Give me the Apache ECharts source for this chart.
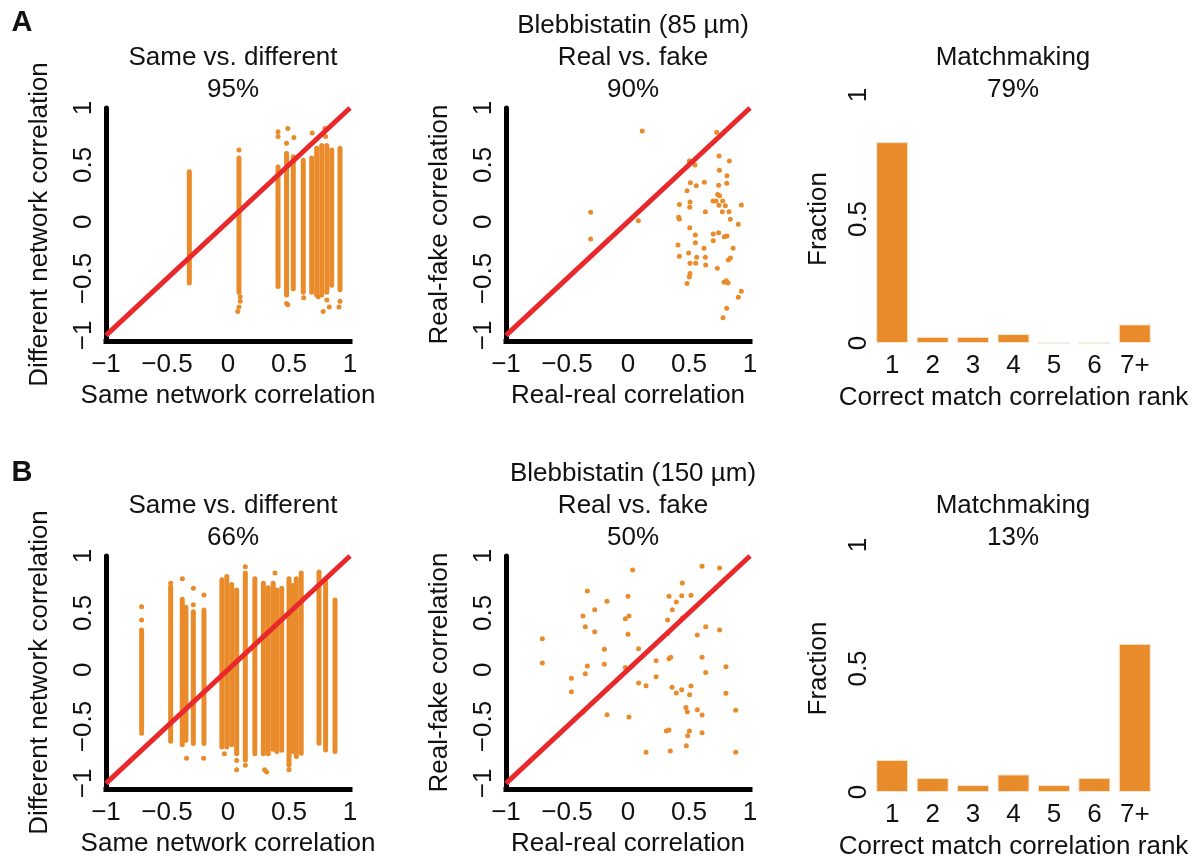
<!DOCTYPE html>
<html>
<head>
<meta charset="utf-8">
<title>Blebbistatin - same vs. different, real vs. fake, matchmaking</title>
<script src="https://cdn.jsdelivr.net/npm/echarts@6/dist/echarts.min.js"></script>
<style>
html, body { margin: 0; padding: 0; background: #fff; }
#main { width: 1203px; height: 861px; }
</style>
</head>
<body>
<div id="main"></div>
<script>
// ---- data ----
var ticks = [-1, -0.5, 0, 0.5, 1];
var ranks = ['1', '2', '3', '4', '5', '6', '7+'];

// matchmaking: fraction of networks per correct-match rank
var fracA = [0.81, 0.025, 0.025, 0.036, 0, 0, 0.075];
var fracB = [0.13, 0.057, 0.028, 0.071, 0.028, 0.057, 0.60];

// same vs. different: dense columns of points [same corr, lowest diff corr, highest diff corr]
var columnsA = [
    [-0.317, -0.54, 0.44], [0.09, -0.62, 0.56], [0.41, -0.57, 0.48], [0.48, -0.645, 0.60],
    [0.535, -0.59, 0.57], [0.617, -0.62, 0.54], [0.686, -0.62, 0.56], [0.727, -0.645, 0.645],
    [0.768, -0.645, 0.67], [0.81, -0.62, 0.67], [0.85, -0.56, 0.63], [0.918, -0.60, 0.645]
];
// isolated points around the columns [same corr, diff corr]
var strayA = [
    [0.09, 0.63], [0.10, -0.66], [0.10, -0.70], [0.09, -0.75], [0.08, -0.79],
    [0.41, 0.79], [0.41, 0.75], [0.49, 0.82], [0.48, 0.69], [0.48, -0.72], [0.49, -0.73],
    [0.54, 0.74], [0.62, -0.67], [0.69, 0.78], [0.795, 0.82], [0.80, 0.75], [0.78, -0.79],
    [0.74, -0.66], [0.81, -0.69], [0.83, -0.75], [0.918, -0.70], [0.91, -0.75]
];
var columnsB = [
    [-0.708, -0.53, 0.35], [-0.47, -0.63, 0.73], [-0.375, -0.66, 0.62], [-0.345, -0.62, 0.55],
    [-0.284, -0.65, 0.51], [-0.197, -0.65, 0.525], [-0.05, -0.68, 0.79], [-0.01, -0.68, 0.82],
    [0.03, -0.66, 0.75], [0.071, -0.74, 0.70], [0.142, -0.795, 0.85], [0.22, -0.74, 0.80],
    [0.29, -0.74, 0.76], [0.33, -0.74, 0.72], [0.37, -0.70, 0.76], [0.40, -0.72, 0.70],
    [0.44, -0.71, 0.716], [0.50, -0.84, 0.80], [0.53, -0.72, 0.74], [0.56, -0.765, 0.80],
    [0.60, -0.736, 0.85], [0.746, -0.648, 0.86], [0.80, -0.707, 0.774], [0.877, -0.72, 0.613]
];
var strayB = [
    [-0.708, 0.554], [-0.708, 0.437], [-0.708, -0.56], [-0.47, 0.76], [-0.374, 0.80],
    [-0.34, -0.78], [-0.284, 0.716], [-0.284, 0.57], [-0.197, 0.657], [-0.20, -0.78],
    [-0.03, -0.74], [0.071, -0.80], [0.071, -0.88], [0.142, 0.906], [0.142, -0.84],
    [0.317, -0.90], [0.30, -0.88], [0.385, 0.85], [0.50, -0.88]
];

// real vs. fake [real-real corr, real-fake corr]
var realFakeA = [
    [0.117, 0.798], [0.727, 0.786], [-0.306, 0.082], [-0.306, -0.152], [0.085, 0.009],
    [0.503, 0.534], [0.549, 0.499], [0.746, 0.578], [0.831, 0.534], [0.749, 0.452], [0.811, 0.405],
    [0.511, 0.343], [0.560, 0.317], [0.626, 0.346], [0.743, 0.320], [0.809, 0.337],
    [0.484, 0.273], [0.735, 0.240], [0.751, 0.229],
    [0.508, 0.173], [0.421, 0.152], [0.697, 0.182], [0.721, 0.182], [0.776, 0.182],
    [0.506, 0.126], [0.746, 0.144], [0.798, 0.141], [0.929, 0.147],
    [0.634, 0.088], [0.773, 0.088], [0.828, 0.088],
    [0.415, 0.038], [0.421, 0.023], [0.839, 0.021], [0.904, -0.023],
    [0.506, -0.053], [0.552, -0.117], [0.699, -0.109], [0.743, -0.097], [0.699, -0.167], [0.552, -0.185],
    [0.790, -0.132], [0.811, -0.126], [0.410, -0.205], [0.861, -0.235], [0.623, -0.235],
    [0.497, -0.276], [0.421, -0.305], [0.563, -0.314], [0.634, -0.314], [0.839, -0.320], [0.822, -0.337],
    [0.508, -0.367], [0.555, -0.367], [0.637, -0.381], [0.732, -0.411],
    [0.508, -0.457], [0.503, -0.487], [0.484, -0.545], [0.787, -0.534], [0.820, -0.540], [0.806, -0.519],
    [0.929, -0.613], [0.904, -0.666], [0.809, -0.762], [0.779, -0.845]
];
var realFakeB = [
    [0.038, 0.877], [0.607, 0.909], [0.751, 0.894], [0.445, 0.762], [-0.333, 0.692],
    [0.0, 0.645], [0.336, 0.645], [0.440, 0.651], [0.516, 0.654], [-0.172, 0.601], [0.396, 0.595],
    [-0.273, 0.528], [0.363, 0.528], [-0.369, 0.472], [-0.022, 0.449], [0.008, 0.472],
    [0.325, 0.437], [0.445, 0.455], [-0.350, 0.378], [0.637, 0.378], [0.751, 0.349],
    [-0.273, 0.334], [0.0, 0.311], [0.325, 0.317], [0.568, 0.305], [-0.702, 0.273],
    [-0.194, 0.179], [0.087, 0.185], [0.336, 0.097], [0.350, 0.109], [0.230, 0.079], [0.607, 0.109],
    [-0.702, 0.059], [-0.333, 0.032], [-0.194, 0.047], [-0.022, 0.018], [0.038, 0.035], [0.803, 0.026],
    [-0.350, -0.035], [0.637, -0.026], [-0.464, -0.076], [0.230, -0.062], [0.087, -0.117],
    [0.148, -0.141], [0.361, -0.155], [0.440, -0.176], [0.516, -0.144], [-0.464, -0.194],
    [0.396, -0.205], [0.505, -0.220], [0.803, -0.208], [0.475, -0.334], [0.486, -0.370],
    [0.568, -0.352], [0.607, -0.399], [0.883, -0.358], [-0.369, -0.372], [-0.172, -0.396],
    [0.008, -0.416], [0.314, -0.540], [0.336, -0.531], [0.503, -0.540], [0.489, -0.581],
    [0.607, -0.554], [0.148, -0.727], [0.347, -0.716], [0.478, -0.669], [0.883, -0.727]
];
var diagonal = [[-1, -1], [1, 1]];

var titlesA = [['Same vs. different', '95%'], ['Blebbistatin (85 µm)', 'Real vs. fake', '90%'], ['Matchmaking', '79%']];
var titlesB = [['Same vs. different', '66%'], ['Blebbistatin (150 µm)', 'Real vs. fake', '50%'], ['Matchmaking', '13%']];

// ---- drawing ----
var ORANGE = '#e98b2a';
var RED = '#e9282c';
var INK = '#111';
var FONT = '"Liberation Sans", Arial, sans-serif';

var grids = [
    { left : 106, top : 108, width : 244, height : 233 },
    { left : 506, top : 108, width : 244, height : 233 },
    { left : 872, top : 95, width : 283, height : 248 },
    { left : 106, top : 556, width : 244, height : 233 },
    { left : 506, top : 556, width : 244, height : 233 },
    { left : 872, top : 545, width : 283, height : 247 }
];

var option = {
    animation : false,
    backgroundColor : '#fff',
    textStyle : { fontFamily : FONT },
    grid : grids,
    xAxis : [],
    yAxis : [],
    series : [],
    graphic : []
};

function minusSign(v) {
    return String(v).replace('-', '\u2212');
}

function textStyle(extra) {
    return Object.assign({ fontSize : 26, color : INK, fontFamily : FONT }, extra || {});
}

function corrPanel(i, xName, yName) {
    option.xAxis.push({
        gridIndex : i, type : 'value', min : -1, max : 1, interval : 0.5,
        axisLine : { show : true, onZero : false, lineStyle : { color : '#000', width : 5, cap : 'square' } },
        axisTick : { show : false },
        splitLine : { show : false },
        axisLabel : textStyle({ margin : 11, formatter : minusSign }),
        name : xName, nameLocation : 'middle', nameGap : 42,
        nameTextStyle : textStyle()
    });
    option.yAxis.push({
        gridIndex : i, type : 'value', min : -1.05, max : 1,
        axisLine : { show : true, onZero : false, lineStyle : { color : '#000', width : 5 } },
        axisTick : { show : false },
        splitLine : { show : false },
        axisLabel : textStyle({ rotate : 90, margin : 9, customValues : ticks, formatter : minusSign }),
        name : yName, nameLocation : 'middle', nameRotate : 90, nameGap : 53,
        nameTextStyle : textStyle()
    });
}

function barPanel(i, data) {
    option.xAxis.push({
        gridIndex : i, type : 'category', data : ranks,
        axisLine : { show : false }, axisTick : { show : false },
        axisLabel : textStyle({ margin : 10 }),
        name : 'Correct match correlation rank', nameLocation : 'middle', nameGap : 42,
        nameTextStyle : textStyle()
    });
    option.yAxis.push({
        gridIndex : i, type : 'value', min : 0, max : 1, interval : 0.5,
        axisLine : { show : false }, axisTick : { show : false }, splitLine : { show : false },
        axisLabel : textStyle({ rotate : 90, margin : 0 }),
        name : 'Fraction', nameLocation : 'middle', nameRotate : 90, nameGap : 40,
        nameTextStyle : textStyle()
    });
    option.series.push({
        type : 'bar', xAxisIndex : i, yAxisIndex : i, data : data, barWidth : 32,
        itemStyle : { color : ORANGE, borderColor : '#f7e6d2', borderWidth : 1 }
    });
}

function columnSeries(i, data) {
    option.series.push({
        type : 'custom', xAxisIndex : i, yAxisIndex : i, data : data,
        encode : { x : 0, y : [ 1, 2 ] },
        renderItem : function(params, api) {
            var top = api.coord([ api.value(0), api.value(2) ]);
            var bottom = api.coord([ api.value(0), api.value(1) ]);
            return {
                type : 'rect',
                shape : { x : top[0] - 2.5, y : top[1] - 2.5, width : 5, height : bottom[1] - top[1] + 5, r : 2.5 },
                style : { fill : ORANGE }
            };
        }
    });
}

function dotSeries(i, data) {
    option.series.push({
        type : 'scatter', xAxisIndex : i, yAxisIndex : i, data : data,
        symbolSize : 5, itemStyle : { color : ORANGE, opacity : 1 }
    });
}

function diagonalSeries(i) {
    option.series.push({
        type : 'line', xAxisIndex : i, yAxisIndex : i, data : diagonal, z : 5,
        showSymbol : false, silent : true,
        lineStyle : { color : RED, width : 5 }
    });
}

function titleLines(lines, cx, lastY) {
    for (var k = 0; k < lines.length; k++) {
        option.graphic.push({
            type : 'text', x : cx, y : lastY - (lines.length - 1 - k) * 32,
            style : { text : lines[k], fill : INK, font : '26px ' + FONT, textAlign : 'center', textVerticalAlign : 'middle' }
        });
    }
}

// row A
corrPanel(0, 'Same network correlation', 'Different network correlation');
corrPanel(1, 'Real-real correlation', 'Real-fake correlation');
barPanel(2, fracA);
// row B
corrPanel(3, 'Same network correlation', 'Different network correlation');
corrPanel(4, 'Real-real correlation', 'Real-fake correlation');
barPanel(5, fracB);

columnSeries(0, columnsA);
dotSeries(0, strayA);
diagonalSeries(0);
dotSeries(1, realFakeA);
diagonalSeries(1);
columnSeries(3, columnsB);
dotSeries(3, strayB);
diagonalSeries(3);
dotSeries(4, realFakeB);
diagonalSeries(4);

var centers = [ 233, 633, 1013 ];
for (var p = 0; p < 3; p++) {
    titleLines(titlesA[p], centers[p], 90);
    titleLines(titlesB[p], centers[p], 538);
}
option.graphic.push({
    type : 'text', x : 22, y : 23,
    style : { text : 'A', fill : INK, font : 'bold 29px ' + FONT, textAlign : 'center', textVerticalAlign : 'middle' }
});
option.graphic.push({
    type : 'text', x : 22, y : 473,
    style : { text : 'B', fill : INK, font : 'bold 29px ' + FONT, textAlign : 'center', textVerticalAlign : 'middle' }
});

var chart = echarts.init(document.getElementById('main'));
chart.setOption(option);
</script>
</body>
</html>
